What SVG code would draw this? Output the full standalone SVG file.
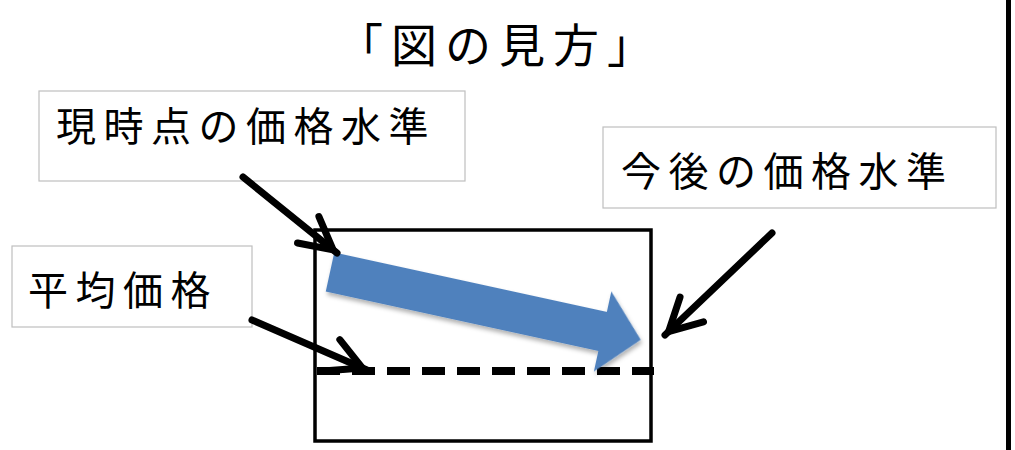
<svg xmlns="http://www.w3.org/2000/svg" width="1015" height="450" viewBox="0 0 1015 450">
<style>
.lbl{font-family:"Noto Sans CJK JP","Noto Sans CJK SC",sans-serif;font-size:40px;letter-spacing:7.5px;fill:#000}
.title{font-family:"Noto Sans CJK JP","Noto Sans CJK SC",sans-serif;font-size:46px;letter-spacing:8px;fill:#000}
.box{fill:#fff;stroke:#BFBFBF;stroke-width:1.2}
.ptr{fill:none;stroke:#000;stroke-width:7;stroke-linecap:round}
</style>
<defs>
<marker id="vhead" markerUnits="userSpaceOnUse" viewBox="-45 -25 50 50" markerWidth="50" markerHeight="50" refX="0" refY="0" orient="auto" overflow="visible">
<path d="M-37,-17 L-5,0 L-37,17" fill="none" stroke="#000" stroke-width="7" stroke-linejoin="miter" stroke-miterlimit="4" stroke-linecap="round"/>
</marker>
<filter id="sh" x="-10%" y="-20%" width="130%" height="150%">
<feDropShadow dx="2" dy="3" stdDeviation="2" flood-color="#000" flood-opacity="0.3"/>
</filter>
</defs>
<rect x="1006" y="0" width="5" height="450" fill="#000"/>
<text class="title" x="499" y="62" text-anchor="middle">「図の見方」</text>
<g id="chart">
<rect x="315" y="230" width="336" height="211" fill="none" stroke="#000" stroke-width="3.5"/>
</g>
<g id="average-line">
<line x1="317" y1="371" x2="654" y2="371" stroke="#000" stroke-width="8" stroke-dasharray="23 12"/>
</g>
<g id="trend-arrow">
<polygon transform="translate(330,272) rotate(12.3)" points="0,-20 279,-20 279,-41 318,0 279,41 279,20 0,20" fill="#4F81BD" filter="url(#sh)"/>
</g>
<g id="label-current">
<rect class="box" x="39" y="91" width="426" height="90"/>
<text class="lbl" x="56" y="140.5">現時点の価格水準</text>
</g>
<g id="label-average">
<rect class="box" x="12" y="246" width="240" height="81"/>
<text class="lbl" x="28" y="304.5">平均価格</text>
</g>
<g id="label-future">
<rect class="box" x="603" y="127" width="393" height="81"/>
<text class="lbl" x="621" y="185.5">今後の価格水準</text>
</g>
<g id="connectors">
<path class="ptr" d="M243,177 L337,253" marker-end="url(#vhead)"/>
<path class="ptr" d="M252,320 L367,370" marker-end="url(#vhead)"/>
<path class="ptr" d="M772,233 L665,335" marker-end="url(#vhead)"/>
</g>
</svg>
